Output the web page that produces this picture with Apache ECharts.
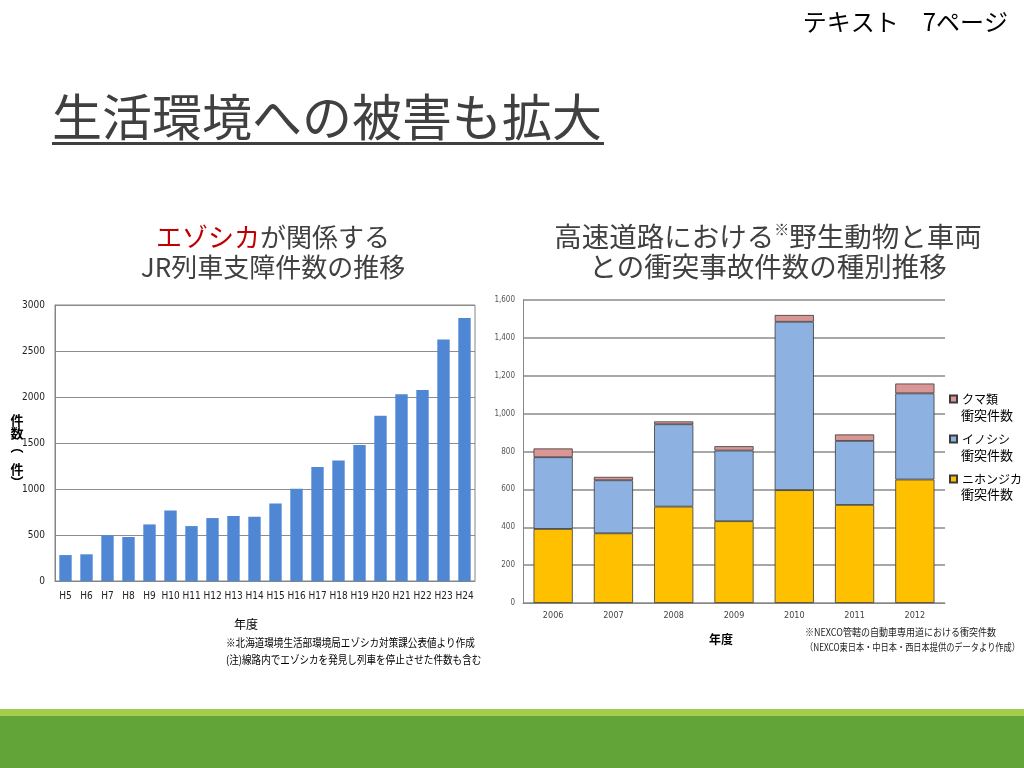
<!DOCTYPE html>
<html><head><meta charset="utf-8">
<script src="https://cdn.jsdelivr.net/npm/echarts@6/dist/echarts.min.js"></script>
<style>html,body{margin:0;padding:0;background:#fff}#c{width:1024px;height:768px}</style>
</head><body><div id="c"></div>
<script>
// Left chart: JR train disruptions involving Ezo deer
const leftCategories = ['H5','H6','H7','H8','H9','H10','H11','H12','H13','H14','H15','H16','H17','H18','H19','H20','H21','H22','H23','H24'];
const leftValues = [282, 290, 496, 478, 615, 767, 597, 684, 706, 698, 843, 1003, 1238, 1310, 1477, 1795, 2030, 2077, 2624, 2859];
const leftTicks = [0, 500, 1000, 1500, 2000, 2500, 3000];

// Right chart: expressway collisions by animal type
const rightCategories = ['2006','2007','2008','2009','2010','2011','2012'];
const deerValues = [391, 368, 509, 432, 596, 518, 652];   // ニホンジカ
const boarValues = [379, 280, 435, 373, 889, 338, 455];   // イノシシ
const bearValues = [46, 18, 15, 23, 36, 34, 52];          // クマ類
const rightTicks = [0, 200, 400, 600, 800, 1000, 1200, 1400, 1600];

const jp = '"Noto Sans CJK JP", "Noto Sans", sans-serif';
const narrow = '"Liberation Sans Narrow", "DejaVu Sans Condensed", "Liberation Sans", sans-serif';

const chart = echarts.init(document.getElementById('c'), null, {renderer: 'canvas'});
chart.setOption({
  animation: false,
  backgroundColor: '#ffffff',
  title: [
    {text: 'テキスト　7ページ', right: 11, top: 5, textStyle: {fontFamily: jp, fontSize: 24, fontWeight: 'normal', color: '#000'}},
    {text: '{r|エゾシカ}{k|が関係する}\n{k|JR列車支障件数の推移}', left: 268, top: 217, textAlign: 'center',
      textStyle: {fontWeight: 'normal', rich: {
        r: {fontFamily: jp, fontSize: 26, fontWeight: 'normal', color: '#c00000', lineHeight: 30},
        k: {fontFamily: jp, fontSize: 26, fontWeight: 'normal', color: '#404040', lineHeight: 30}
      }}},
    {text: '{k|高速道路における}{s|※}{k|野生動物と車両}\n{k|との衝突事故件数の種別推移}', left: 763, top: 217, textAlign: 'center',
      textStyle: {fontWeight: 'normal', rich: {
        k: {fontFamily: jp, fontSize: 27.5, fontWeight: 'normal', color: '#404040', lineHeight: 30},
        s: {fontFamily: jp, fontSize: 15, fontWeight: 'normal', color: '#404040', verticalAlign: 'top', lineHeight: 30}
      }}}
  ],
  legend: {
    orient: 'vertical', left: 944, top: 388, itemWidth: 7, itemHeight: 7, itemGap: 28,
    icon: 'rect',
    data: ['クマ類', 'イノシシ', 'ニホンジカ'],
    textStyle: {fontFamily: jp, fontSize: 12, color: '#000'}
  },
  grid: [
    {left: 55, right: 549, top: 305, bottom: 187, show: true, borderColor: '#868686', borderWidth: 1, containLabel: false},
    {left: 523, right: 79, top: 300, bottom: 165, containLabel: false}
  ],
  xAxis: [
    {type: 'category', gridIndex: 0, data: leftCategories,
      axisLine: {lineStyle: {color: '#868686'}}, axisTick: {show: false},
      axisLabel: {fontFamily: narrow, fontSize: 10, color: '#222', margin: 10, interval: 0}},
    {type: 'category', gridIndex: 1, data: rightCategories,
      axisLine: {lineStyle: {color: '#888', width: 1}}, axisTick: {show: false},
      axisLabel: {fontFamily: narrow, fontSize: 9, color: '#444', margin: 8, interval: 0}}
  ],
  yAxis: [
    {type: 'value', gridIndex: 0, min: leftTicks[0], max: leftTicks[leftTicks.length - 1], interval: 500,
      axisLine: {show: true, lineStyle: {color: '#868686'}}, axisTick: {show: false},
      splitLine: {lineStyle: {color: '#8c8c8c', width: 1}},
      axisLabel: {fontFamily: narrow, fontSize: 10, color: '#222', margin: 10, formatter: v => String(v)}},
    {type: 'value', gridIndex: 1, min: rightTicks[0], max: rightTicks[rightTicks.length - 1], interval: 200,
      axisLine: {show: true, lineStyle: {color: '#888'}}, axisTick: {show: false},
      splitLine: {lineStyle: {color: '#8a8a8a', width: 1.5}},
      axisLabel: {fontFamily: narrow, fontSize: 8, color: '#555', margin: 8,
        formatter: v => v.toLocaleString('en-US')}}
  ],
  series: [
    {name: 'JR', type: 'bar', xAxisIndex: 0, yAxisIndex: 0, data: leftValues, barCategoryGap: '41%',
      itemStyle: {color: '#4f87d5'}},
    {name: 'ニホンジカ', type: 'bar', stack: 'r', xAxisIndex: 1, yAxisIndex: 1, data: deerValues, barCategoryGap: '35%',
      itemStyle: {color: '#ffc000', borderColor: '#3a3a3a', borderWidth: 0.8}},
    {name: 'イノシシ', type: 'bar', stack: 'r', xAxisIndex: 1, yAxisIndex: 1, data: boarValues,
      itemStyle: {color: '#8db1e1', borderColor: '#3a3a3a', borderWidth: 0.8}},
    {name: 'クマ類', type: 'bar', stack: 'r', xAxisIndex: 1, yAxisIndex: 1, data: bearValues,
      itemStyle: {color: '#d99694', borderColor: '#3a3a3a', borderWidth: 0.8}}
  ],
  graphic: [
    {type: 'text', left: 52, top: 92, style: {text: '生活環境への被害も拡大', fontFamily: jp, fontSize: 50, fill: '#404040'}},
    {type: 'rect', shape: {x: 52, y: 142, width: 552, height: 3}, style: {fill: '#404040'}},
    {type: 'text', x: 17, y: 414, style: {text: '件\n数\n︵', fontFamily: jp, fontSize: 13, fontWeight: 'bold', fill: '#000', align: 'center', lineHeight: 13}},
    {type: 'text', x: 17, y: 463, style: {text: '件\n︶', fontFamily: jp, fontSize: 13, fontWeight: 'bold', fill: '#000', align: 'center', lineHeight: 13}},
    {type: 'text', x: 234, y: 618, style: {text: '年度', fontFamily: jp, fontSize: 12, fill: '#000'}},
    {type: 'text', x: 226, y: 637, scaleX: 0.87, style: {text: '※北海道環境生活部環境局エゾシカ対策課公表値より作成', fontFamily: jp, fontSize: 11, fill: '#000'}},
    {type: 'text', x: 226, y: 654, scaleX: 0.87, style: {text: '(注)線路内でエゾシカを発見し列車を停止させた件数も含む', fontFamily: jp, fontSize: 11, fill: '#000'}},
    {type: 'text', x: 709, y: 633, style: {text: '年度', fontFamily: jp, fontSize: 12, fontWeight: 'bold', fill: '#000'}},
    {type: 'text', x: 805, y: 627, scaleX: 0.9, style: {text: '※NEXCO管轄の自動車専用道における衝突件数', fontFamily: jp, fontSize: 10, fill: '#222'}},
    {type: 'text', x: 805, y: 642, scaleX: 0.82, style: {text: '（NEXCO東日本・中日本・西日本提供のデータより作成）', fontFamily: jp, fontSize: 10, fill: '#222'}},
    {type: 'text', x: 961, y: 409, style: {text: '衝突件数', fontFamily: jp, fontSize: 13, fill: '#000'}},
    {type: 'text', x: 961, y: 449, style: {text: '衝突件数', fontFamily: jp, fontSize: 13, fill: '#000'}},
    {type: 'text', x: 961, y: 488, style: {text: '衝突件数', fontFamily: jp, fontSize: 13, fill: '#000'}},
    {type: 'rect', shape: {x: 0, y: 709, width: 1024, height: 7}, style: {fill: '#a3cd4c'}},
    {type: 'rect', shape: {x: 0, y: 716, width: 1024, height: 52}, style: {fill: '#63a438'}}
  ]
});
</script></body></html>
